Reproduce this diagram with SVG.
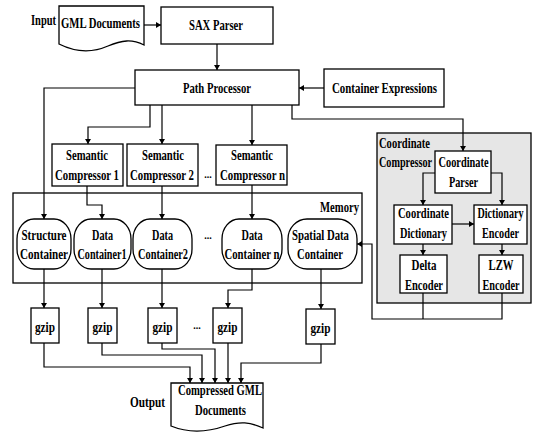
<svg xmlns="http://www.w3.org/2000/svg" width="534" height="432" viewBox="0 0 534 432">
<style>
text{font-family:"Liberation Serif","Times New Roman",serif;font-weight:bold;font-size:14px;fill:#000;text-anchor:middle}
.dots{font-size:10px}
.box{fill:#fff;stroke:#000;stroke-width:1.3}
.gray{fill:#e6e6e6;stroke:#000;stroke-width:1.3}
.ln{fill:none;stroke:#000;stroke-width:1.2}
.ar{fill:none;stroke:#000;stroke-width:1.2;marker-end:url(#ah)}
</style>
<defs>
<marker id="ah" markerWidth="6" markerHeight="6" refX="5" refY="3" orient="auto" markerUnits="userSpaceOnUse">
<path d="M0,0 L5,3 L0,6 Z" fill="#000"/>
</marker>
</defs>
<rect width="534" height="432" fill="#fff"/>

<g id="memory">
<rect class="box" x="13" y="193" width="349" height="90"/>
<text x="339.5" y="212" textLength="39" lengthAdjust="spacingAndGlyphs">Memory</text>
</g>
<g id="coordinate-compressor">
<rect class="gray" x="377" y="133" width="154" height="170"/>
<text x="404.5" y="148" textLength="51" lengthAdjust="spacingAndGlyphs">Coordinate</text>
<text x="405.5" y="167" textLength="53" lengthAdjust="spacingAndGlyphs">Compressor</text>
</g>

<g id="connectors">
<path class="ar" d="M144,25 H161"/>
<path class="ar" d="M217,44 V70"/>
<path class="ar" d="M324,88 H299"/>
<path class="ar" d="M150,105 V127 H88 V144"/>
<path class="ar" d="M162,105 V144"/>
<path class="ar" d="M252,105 V145"/>
<path class="ar" d="M292,105 V119 H463 V151"/>
<path class="ar" d="M135,88 H44 V219"/>
<path class="ar" d="M87,186 V205 H102 V219"/>
<path class="ar" d="M162,186 V219"/>
<path class="ar" d="M252,185 V219"/>
<path class="ar" d="M44,269 V308"/>
<path class="ar" d="M102,269 V308"/>
<path class="ar" d="M162,269 V308"/>
<path class="ar" d="M252,269 V290 H228 V308"/>
<path class="ar" d="M321,269 V309"/>
<path class="ar" d="M44,343 V367 H190 V383"/>
<path class="ar" d="M102,343 V355 H202 V383"/>
<path class="ar" d="M162,343 V349 H215 V383"/>
<path class="ar" d="M228,343 V383"/>
<path class="ar" d="M321,344 V363 H241 V383"/>
<path class="ar" d="M435,173 H423 V205"/>
<path class="ar" d="M491,173 H502 V205"/>
<path class="ar" d="M452,224 H474"/>
<path class="ar" d="M423,244 V255"/>
<path class="ar" d="M502,244 V255"/>
<path class="ln" d="M423,293 V319"/>
<path class="ar" d="M502,293 V319 H372 V244 H357"/>
</g>

<g id="input-label"><text x="43.5" y="25" textLength="25" lengthAdjust="spacingAndGlyphs">Input</text></g>
<g id="gml-documents">
<path class="box" d="M59,6 H144 V45 C132,39 122,40 108,46 C92,53 75,52 59,44 Z"/>
<text x="100.5" y="28" textLength="79" lengthAdjust="spacingAndGlyphs">GML Documents</text>
</g>
<g id="sax-parser">
<rect class="box" x="161" y="7" width="112" height="37"/>
<text x="216" y="30" textLength="54" lengthAdjust="spacingAndGlyphs">SAX Parser</text>
</g>
<g id="path-processor">
<rect class="box" x="135" y="70" width="164" height="35"/>
<text x="217" y="93" textLength="68" lengthAdjust="spacingAndGlyphs">Path Processor</text>
</g>
<g id="container-expressions">
<rect class="box" x="324" y="69" width="120" height="38"/>
<text x="384.5" y="93" textLength="105" lengthAdjust="spacingAndGlyphs">Container Expressions</text>
</g>

<g id="semantic-compressor-1">
<rect class="box" x="52" y="144" width="71" height="42"/>
<text x="87" y="160" textLength="42" lengthAdjust="spacingAndGlyphs">Semantic</text>
<text x="87" y="180" textLength="64" lengthAdjust="spacingAndGlyphs">Compressor 1</text>
</g>
<g id="semantic-compressor-2">
<rect class="box" x="127" y="144" width="71" height="42"/>
<text x="163" y="160" textLength="42" lengthAdjust="spacingAndGlyphs">Semantic</text>
<text x="162" y="180" textLength="64" lengthAdjust="spacingAndGlyphs">Compressor 2</text>
</g>
<text class="dots" x="208" y="178">...</text>
<g id="semantic-compressor-n">
<rect class="box" x="216" y="145" width="71" height="40"/>
<text x="252" y="160" textLength="42" lengthAdjust="spacingAndGlyphs">Semantic</text>
<text x="252.5" y="180" textLength="65" lengthAdjust="spacingAndGlyphs">Compressor n</text>
</g>

<g id="structure-container">
<rect class="box" x="17" y="219" width="54" height="50" rx="17" ry="20"/>
<text x="44" y="240" textLength="45" lengthAdjust="spacingAndGlyphs">Structure</text>
<text x="44" y="259" textLength="48" lengthAdjust="spacingAndGlyphs">Container</text>
</g>
<g id="data-container-1">
<rect class="box" x="74" y="219" width="57" height="50" rx="17" ry="20"/>
<text x="102.5" y="240" textLength="21" lengthAdjust="spacingAndGlyphs">Data</text>
<text x="102" y="259" textLength="49" lengthAdjust="spacingAndGlyphs">Container1</text>
</g>
<g id="data-container-2">
<rect class="box" x="133" y="219" width="59" height="50" rx="17" ry="20"/>
<text x="162.5" y="240" textLength="21" lengthAdjust="spacingAndGlyphs">Data</text>
<text x="163" y="259" textLength="50" lengthAdjust="spacingAndGlyphs">Container2</text>
</g>
<text class="dots" x="208" y="239">...</text>
<g id="data-container-n">
<rect class="box" x="222" y="219" width="60" height="50" rx="17" ry="20"/>
<text x="252" y="240" textLength="21" lengthAdjust="spacingAndGlyphs">Data</text>
<text x="252" y="259" textLength="55" lengthAdjust="spacingAndGlyphs">Container n</text>
</g>
<g id="spatial-data-container">
<rect class="box" x="288" y="219" width="69" height="50" rx="19" ry="20"/>
<text x="320.5" y="240" textLength="57" lengthAdjust="spacingAndGlyphs">Spatial Data</text>
<text x="320" y="259" textLength="46" lengthAdjust="spacingAndGlyphs">Container</text>
</g>

<g id="coordinate-parser">
<rect class="box" x="435" y="151" width="56" height="42"/>
<text x="463.5" y="167" textLength="50" lengthAdjust="spacingAndGlyphs">Coordinate</text>
<text x="463.5" y="187" textLength="29" lengthAdjust="spacingAndGlyphs">Parser</text>
</g>
<g id="coordinate-dictionary">
<rect class="box" x="394" y="205" width="58" height="39"/>
<text x="423.5" y="218" textLength="51" lengthAdjust="spacingAndGlyphs">Coordinate</text>
<text x="423.5" y="238" textLength="47" lengthAdjust="spacingAndGlyphs">Dictionary</text>
</g>
<g id="dictionary-encoder">
<rect class="box" x="474" y="205" width="53" height="39"/>
<text x="500.5" y="218" textLength="46" lengthAdjust="spacingAndGlyphs">Dictionary</text>
<text x="500.5" y="238" textLength="37" lengthAdjust="spacingAndGlyphs">Encoder</text>
</g>
<g id="delta-encoder">
<rect class="box" x="400" y="255" width="47" height="38"/>
<text x="424" y="270" textLength="25" lengthAdjust="spacingAndGlyphs">Delta</text>
<text x="424" y="290" textLength="38" lengthAdjust="spacingAndGlyphs">Encoder</text>
</g>
<g id="lzw-encoder">
<rect class="box" x="479" y="255" width="44" height="38"/>
<text x="501" y="270" textLength="25" lengthAdjust="spacingAndGlyphs">LZW</text>
<text x="501" y="290" textLength="37" lengthAdjust="spacingAndGlyphs">Encoder</text>
</g>

<g id="gzip-1"><rect class="box" x="31" y="308" width="28" height="35"/><text x="45" y="332" textLength="20" lengthAdjust="spacingAndGlyphs">gzip</text></g>
<g id="gzip-2"><rect class="box" x="88" y="308" width="29" height="35"/><text x="102.5" y="332" textLength="20" lengthAdjust="spacingAndGlyphs">gzip</text></g>
<g id="gzip-3"><rect class="box" x="148" y="308" width="29" height="35"/><text x="162.5" y="332" textLength="20" lengthAdjust="spacingAndGlyphs">gzip</text></g>
<text class="dots" x="197" y="329">...</text>
<g id="gzip-4"><rect class="box" x="213" y="308" width="29" height="35"/><text x="227.5" y="332" textLength="20" lengthAdjust="spacingAndGlyphs">gzip</text></g>
<g id="gzip-5"><rect class="box" x="306" y="309" width="29" height="35"/><text x="320.5" y="333" textLength="20" lengthAdjust="spacingAndGlyphs">gzip</text></g>

<g id="output-label"><text x="147.5" y="407" textLength="35" lengthAdjust="spacingAndGlyphs">Output</text></g>
<g id="compressed-gml-documents">
<path class="box" d="M171,383 H263 V428 C250,422 240,421 225,426 C205,433 188,433 171,426 Z"/>
<text x="220" y="395" textLength="84" lengthAdjust="spacingAndGlyphs">Compressed GML</text>
<text x="220.5" y="415" textLength="51" lengthAdjust="spacingAndGlyphs">Documents</text>
</g>
</svg>
